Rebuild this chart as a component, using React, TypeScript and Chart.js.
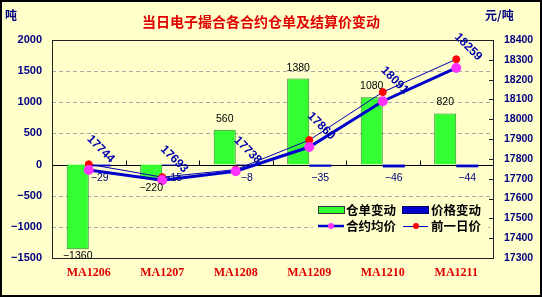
import React, { useEffect, useRef } from 'react';
import { Chart, registerables } from 'chart.js';

Chart.register(...registerables);

const categories = ['MA1206', 'MA1207', 'MA1208', 'MA1209', 'MA1210', 'MA1211'];
const warrantChange = [-1360, -220, 560, 1380, 1080, 820];
const priceChange = [-29, -15, -8, -35, -46, -44];
const avgPrice = [17744, 17693, 17738, 17860, 18091, 18259];
const prevPrice = [17773, 17708, 17746, 17895, 18137, 18303];
const titleText = '当日电子撮合各合约仓单及结算价变动';
const leftUnit = '吨';
const rightUnit = '元/吨';
const legendLabels = ['仓单变动', '价格变动', '合约均价', '前一日价'];

const BG = '#FFFFCC';
const NAVY = '#000080';
const CJK = '"Noto Sans CJK SC", sans-serif';
const NUM = '"Liberation Sans", Arial, sans-serif';

const fmt = (v: number) => (v < 0 ? '\u2212' + Math.abs(v) : String(v));

const overlay = {
  id: 'overlay',
  beforeDraw(chart: any) {
    const { ctx, width, height } = chart;
    ctx.save();
    ctx.fillStyle = BG;
    ctx.fillRect(0, 0, width, height);
    ctx.restore();
  },
  beforeDatasetsDraw(chart: any) {
    const { ctx, chartArea, scales } = chart;
    const ys = scales.y;
    ctx.save();
    // dashed grid lines
    ctx.strokeStyle = '#A8A8A8';
    ctx.lineWidth = 1;
    ctx.setLineDash([4, 3]);
    ctx.beginPath();
    for (const t of ys.ticks) {
      if (t.value === 0 || t.value === ys.max || t.value === ys.min) continue;
      const yy = Math.round(ys.getPixelForValue(t.value)) + 0.5;
      ctx.moveTo(chartArea.left, yy);
      ctx.lineTo(chartArea.right, yy);
    }
    ctx.stroke();
    ctx.setLineDash([]);
    const y0 = Math.round(ys.getPixelForValue(0)) + 0.5;
    ctx.strokeStyle = '#000';
    ctx.beginPath();
    ctx.moveTo(chartArea.left, y0);
    ctx.lineTo(chartArea.right, y0);
    const n = categories.length;
    const w = (chartArea.right - chartArea.left) / n;
    for (let i = 1; i < n; i++) {
      const x = Math.round(chartArea.left + w * i) + 0.5;
      ctx.moveTo(x, y0);
      ctx.lineTo(x, y0 - 5);
    }
    ctx.stroke();
    ctx.restore();
  },
  afterDatasetsDraw(chart: any) {
    const { ctx, chartArea, scales, width, height } = chart;
    ctx.save();
    ctx.strokeStyle = '#222';
    ctx.lineWidth = 1;
    ctx.strokeRect(Math.round(chartArea.left) + 0.5, Math.round(chartArea.top) + 0.5,
      Math.round(chartArea.right - chartArea.left), Math.round(chartArea.bottom - chartArea.top));
    const y1 = scales.y1;
    ctx.beginPath();
    for (const t of y1.ticks) {
      const yy = Math.round(y1.getPixelForValue(t.value)) + 0.5;
      ctx.moveTo(chartArea.right - 4, yy);
      ctx.lineTo(chartArea.right, yy);
    }
    ctx.stroke();

    const mG = chart.getDatasetMeta(0);
    ctx.font = `10.5px ${NUM}`;
    ctx.fillStyle = '#000';
    ctx.textAlign = 'center';
    ctx.textBaseline = 'middle';
    mG.data.forEach((el: any, i: number) => {
      const v = warrantChange[i];
      const ty = v >= 0 ? el.y - 11 : Math.min(el.y + 10, chartArea.bottom - 2);
      ctx.fillText(fmt(v), el.x, ty);
    });
    const mB = chart.getDatasetMeta(1);
    ctx.fillStyle = NAVY;
    mB.data.forEach((el: any, i: number) => {
      ctx.fillText(fmt(priceChange[i]), el.x, scales.y.getPixelForValue(0) + 14);
    });
    const mA = chart.getDatasetMeta(2);
    ctx.font = `bold 12px ${NUM}`;
    ctx.fillStyle = '#0000AA';
    mA.data.forEach((el: any, i: number) => {
      ctx.save();
      ctx.translate(el.x + 12, el.y - 21);
      ctx.rotate((45 * Math.PI) / 180);
      ctx.fillText(String(avgPrice[i]), 0, 0);
      ctx.restore();
    });

    ctx.fillStyle = BG;
    ctx.fillRect(313, 200, 175, 36);
    const r1 = 210;
    const r2 = 226;
    ctx.fillStyle = '#33FF33';
    ctx.fillRect(318, r1 - 3, 26, 7);
    ctx.strokeStyle = '#333';
    ctx.strokeRect(318.5, r1 - 3.5, 26, 7);
    ctx.fillStyle = '#0000CC';
    ctx.fillRect(402, r1 - 3, 26, 7);
    ctx.strokeStyle = '#000066';
    ctx.strokeRect(402.5, r1 - 3.5, 26, 7);
    ctx.strokeStyle = '#0000CC';
    ctx.lineWidth = 2.5;
    ctx.beginPath();
    ctx.moveTo(318, r2);
    ctx.lineTo(344, r2);
    ctx.stroke();
    ctx.lineWidth = 1;
    ctx.beginPath();
    ctx.moveTo(403, r2 + 0.5);
    ctx.lineTo(428, r2 + 0.5);
    ctx.stroke();
    ctx.fillStyle = '#FF33FF';
    ctx.beginPath();
    ctx.arc(331, r2, 3, 0, Math.PI * 2);
    ctx.fill();
    ctx.fillStyle = '#FF0000';
    ctx.beginPath();
    ctx.arc(416, r2, 3, 0, Math.PI * 2);
    ctx.fill();
    ctx.font = `bold 12.5px ${CJK}`;
    ctx.fillStyle = '#000';
    ctx.textAlign = 'left';
    ctx.textBaseline = 'middle';
    ctx.fillText(legendLabels[0], 346, r1);
    ctx.fillText(legendLabels[1], 431, r1);
    ctx.fillText(legendLabels[2], 346, r2);
    ctx.fillText(legendLabels[3], 431, r2);

    ctx.font = `bold 14px ${CJK}`;
    ctx.fillStyle = '#E00000';
    ctx.textAlign = 'center';
    ctx.fillText(titleText, 261, 22);
    ctx.font = `bold 12px ${CJK}`;
    ctx.fillStyle = NAVY;
    ctx.textAlign = 'left';
    ctx.fillText(leftUnit, 5, 15);
    ctx.fillText(rightUnit, 485, 15);

    ctx.strokeStyle = '#000';
    ctx.lineWidth = 2;
    ctx.strokeRect(1, 1, width - 2, height - 2);
    ctx.restore();
  },
};

export default function App() {
  const ref = useRef<HTMLCanvasElement>(null);
  useEffect(() => {
    if (!ref.current) return;
    const chart = new Chart(ref.current, {
      type: 'bar',
      data: {
        labels: categories,
        datasets: [
          {
            type: 'bar',
            label: legendLabels[0],
            data: warrantChange,
            backgroundColor: '#33FF33',
            borderColor: '#2a8a2a',
            borderWidth: 1,
            yAxisID: 'y',
            order: 2,
            categoryPercentage: 0.6,
            barPercentage: 1,
          } as any,
          {
            type: 'bar',
            label: legendLabels[1],
            data: priceChange,
            backgroundColor: '#0000CC',
            borderColor: '#000066',
            borderWidth: 0,
            yAxisID: 'y',
            order: 2,
            categoryPercentage: 0.6,
            barPercentage: 1,
          } as any,
          {
            type: 'line',
            label: legendLabels[2],
            data: avgPrice,
            borderColor: '#0000CC',
            borderWidth: 3,
            pointRadius: 3.5,
            pointBackgroundColor: '#FF33FF',
            pointBorderColor: '#FF33FF',
            yAxisID: 'y1',
            order: 0,
            tension: 0,
          } as any,
          {
            type: 'line',
            label: legendLabels[3],
            data: prevPrice,
            borderColor: '#0000AA',
            borderWidth: 1,
            pointRadius: 3.5,
            pointBackgroundColor: '#FF0000',
            pointBorderColor: '#FF0000',
            yAxisID: 'y1',
            order: 1,
            tension: 0,
          } as any,
        ],
      },
      options: {
        responsive: false,
        animation: false,
        layout: { padding: { top: 40, left: 0, right: 0, bottom: 0 } },
        plugins: { legend: { display: false }, tooltip: { enabled: false }, title: { display: false } },
        scales: {
          x: {
            grid: { display: false, drawTicks: false },
            border: { display: false },
            ticks: {
              color: '#E00000',
              font: { family: '"Liberation Serif", serif', weight: 'bold', size: 12 },
              padding: 8,
            },
            afterFit: (s: any) => { s.height = 39; },
          },
          y: {
            position: 'left',
            min: -1500,
            max: 2000,
            ticks: {
              stepSize: 500,
              color: NAVY,
              font: { family: NUM, weight: 'bold', size: 11 },
              padding: 10,
              callback: (v: any) => fmt(Number(v)),
            },
            grid: { display: false, drawTicks: false },
            border: { display: false },
            afterFit: (s: any) => { s.width = 52; },
          },
          y1: {
            position: 'right',
            min: 17300,
            max: 18400,
            ticks: {
              stepSize: 100,
              color: NAVY,
              font: { family: NUM, weight: 'bold', size: 10.5 },
              padding: 11,
              callback: (v: any) => String(v),
            },
            grid: { display: false, drawTicks: false },
            border: { display: false },
            afterFit: (s: any) => { s.width = 49; },
          },
        },
      } as any,
      plugins: [overlay],
    });
    return () => chart.destroy();
  }, []);
  return (
    <div style={{ position: 'fixed', left: 0, top: 0, width: 542, height: 297 }}>
      <canvas ref={ref} width={542} height={297} style={{ width: 542, height: 297, display: 'block' }} />
    </div>
  );
}
